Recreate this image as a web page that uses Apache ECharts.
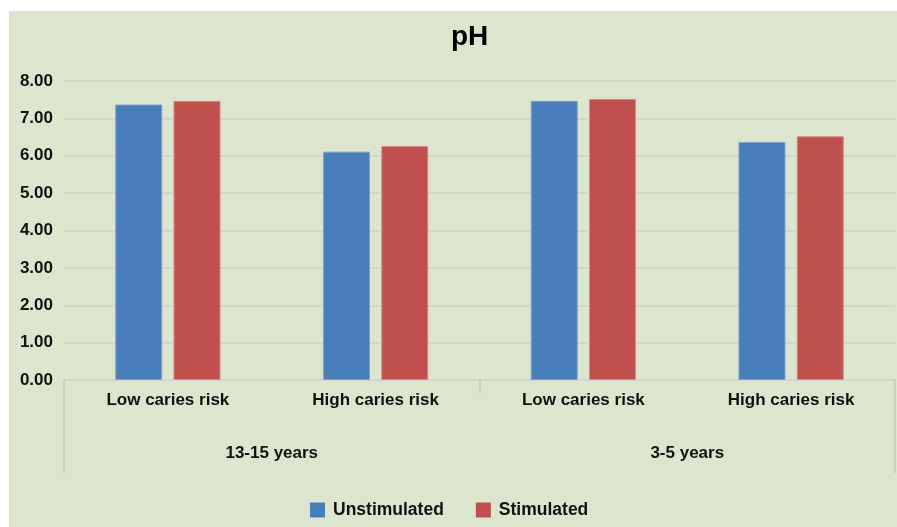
<!DOCTYPE html>
<html>
<head>
<meta charset="utf-8">
<script src="https://cdn.jsdelivr.net/npm/echarts@6/dist/echarts.min.js"></script>
<style>
html,body{margin:0;padding:0;background:#ffffff;}
#chart{position:absolute;left:9px;top:11px;width:888px;height:516px;background:#dce6ce;}
</style>
</head>
<body>
<div id="chart"></div>
<script>
var categories = ['Low caries risk', 'High caries risk', 'Low caries risk', 'High caries risk'];
var groups = ['13-15 years', '3-5 years'];
var unstimulated = [7.37, 6.11, 7.47, 6.37];
var stimulated = [7.47, 6.26, 7.52, 6.52];
var seriesNames = ['Unstimulated', 'Stimulated'];

var chart = echarts.init(document.getElementById('chart'), null, {renderer: 'canvas'});
var font = '"Liberation Sans", Arial, sans-serif';
var sepColor = '#c9cfc3';
chart.setOption({
  backgroundColor: '#dce6ce',
  animation: false,
  title: {
    text: 'pH',
    left: 437,
    top: 7,
    textStyle: {fontFamily: font, fontSize: 28, fontWeight: 'bold', color: '#000'}
  },
  legend: {
    data: seriesNames,
    left: 296,
    top: 485,
    itemWidth: 15,
    itemHeight: 15,
    itemGap: 32,
    icon: 'rect',
    itemStyle: {borderWidth: 0},
    textStyle: {fontFamily: font, fontSize: 17.5, fontWeight: 'bold', color: '#111', padding: [0, 0, 0, 3]}
  },
  grid: {left: 55, right: 2, top: 70, bottom: 147, containLabel: false},
  xAxis: [
    {
      type: 'category',
      data: categories,
      position: 'bottom',
      axisLine: {show: true, lineStyle: {color: '#d3d6cf', width: 2}},
      axisTick: {show: false},
      axisLabel: {margin: 12, fontFamily: font, fontSize: 17, fontWeight: 'bold', color: '#111'}
    },
    {
      type: 'category',
      data: groups,
      position: 'bottom',
      axisLine: {show: false},
      axisTick: {show: true, length: 13, lineStyle: {color: sepColor, width: 2}},
      axisLabel: {margin: 65, fontFamily: font, fontSize: 17, fontWeight: 'bold', color: '#111'}
    },
    {
      type: 'category',
      data: groups,
      position: 'bottom',
      axisLine: {show: false},
      axisTick: {show: true, length: 93, interval: function (i) { return i === 0; }, lineStyle: {color: sepColor, width: 2}},
      axisLabel: {show: false}
    }
  ],
  yAxis: {
    type: 'value',
    min: 0,
    max: 8,
    interval: 1,
    axisLine: {show: false},
    axisTick: {show: false},
    splitLine: {lineStyle: {color: '#d3d6cf', width: 2}},
    axisLabel: {
      margin: 11,
      fontFamily: font, fontSize: 17, fontWeight: 'bold', color: '#111',
      formatter: function (v) { return v.toFixed(2); }
    }
  },
  series: [
    {
      name: seriesNames[0], type: 'bar', xAxisIndex: 0, data: unstimulated,
      barWidth: 47, barGap: '24%',
      itemStyle: {color: '#4a7ebb', borderColor: '#7fa2cf', borderWidth: 1}
    },
    {
      name: seriesNames[1], type: 'bar', xAxisIndex: 0, data: stimulated,
      barWidth: 47, barGap: '24%',
      itemStyle: {color: '#c0504d', borderColor: '#d48a86', borderWidth: 1}
    }
  ]
});
</script>
</body>
</html>
